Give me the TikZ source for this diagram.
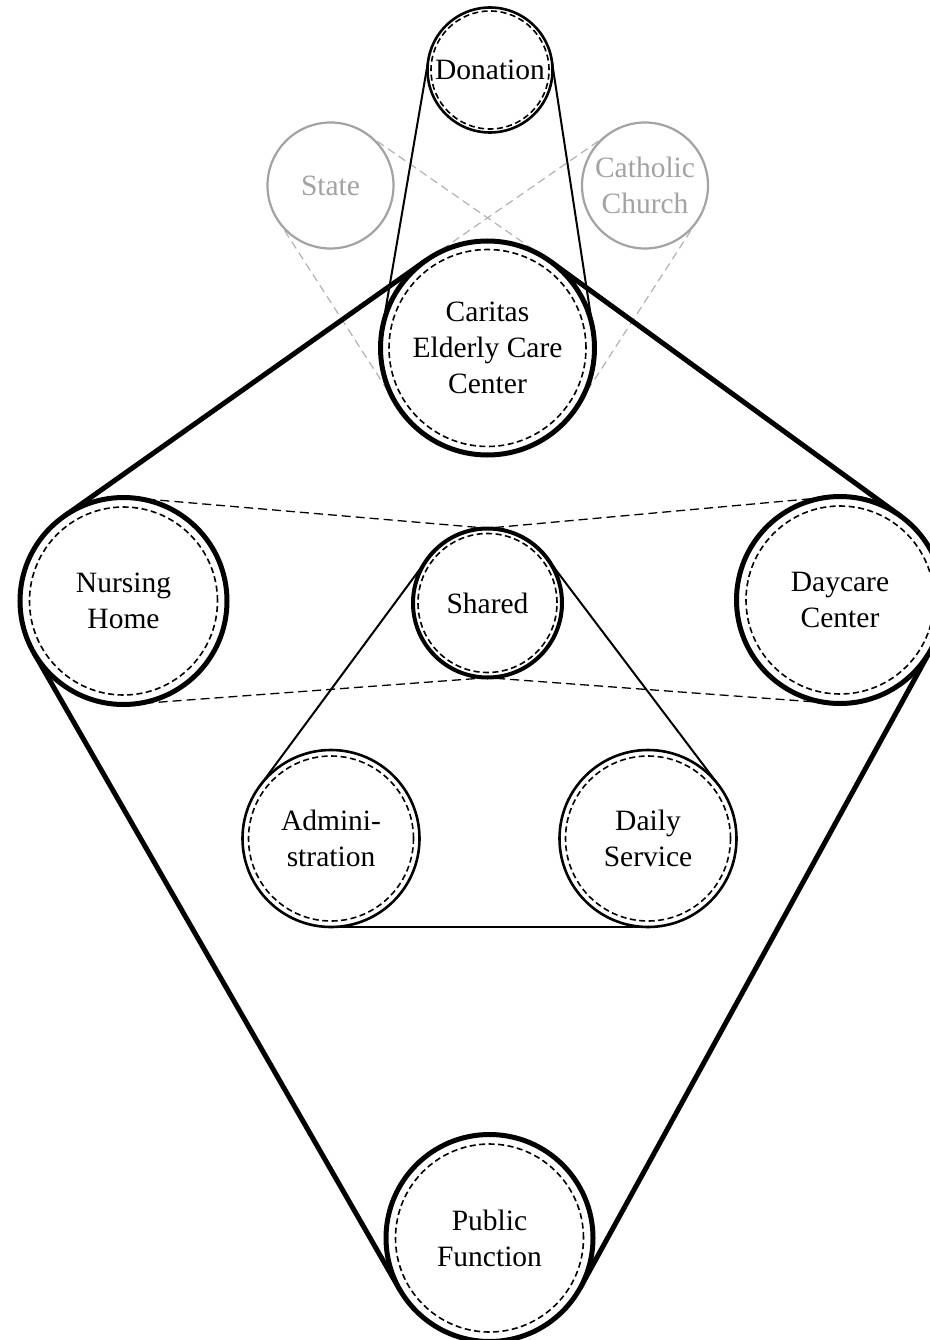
\documentclass[tikz,border=0pt]{standalone}
\usepackage{fontspec}
\setmainfont{Liberation Serif}
\usetikzlibrary{backgrounds}
\definecolor{gcol}{gray}{0.64}
\definecolor{gdash}{gray}{0.70}
\begin{document}
\begin{tikzpicture}[x=1pt,y=-1pt,
  lbl/.style={font=\fontsize{29.5}{36}\selectfont, align=center},
  inset/.style={path picture={\draw[line width=1.6pt, dash pattern=on 6pt off 3.5pt] (path picture bounding box.center) circle (#1);}},
  ring/.style={circle, draw, fill=white, inner sep=0pt, outer sep=0pt, lbl},
  bigring/.style={ring, line width=5pt},
  midring/.style={ring, line width=4pt},
  thinring/.style={ring, line width=2.6pt},
  grayring/.style={circle, draw=gcol, text=gcol, fill=white, line width=2.2pt, inner sep=0pt, outer sep=0pt, lbl},
  thickbelt/.style={line width=5pt},
  thinbelt/.style={line width=2pt},
  dashbelt/.style={line width=1.3pt, dash pattern=on 9pt off 5pt},
  graybelt/.style={draw=gdash, line width=1.2pt, dash pattern=on 8pt off 5pt}
]
\useasboundingbox (0,0) rectangle (929,1340);

\node[thinring, minimum size=125pt, inset=59pt] (don) at (490,70) {Donation};
\node[grayring, minimum size=126pt] (state) at (330.5,185.5) {State};
\node[grayring, minimum size=126pt] (cath) at (645,185.5) {Catholic\\Church};
\node[bigring, minimum size=214pt, inset=98.5pt] (car) at (487.5,348) {Caritas\\Elderly Care\\Center};
\node[bigring, minimum size=207pt, inset=94pt] (nh) at (123.5,601) {Nursing\\Home};
\node[bigring, minimum size=207pt, inset=94pt] (dc) at (840,600) {Daycare\\Center};
\node[bigring, minimum size=207pt, inset=94pt] (pf) at (489.5,1238) {Public\\Function};
\node[midring, minimum size=149pt, inset=69.5pt] (sh) at (487.5,603) {Shared};
\node[thinring, minimum size=177pt, inset=82.5pt] (adm) at (331,838.5) {Admini-\\stration};
\node[thinring, minimum size=177pt, inset=82.5pt] (dly) at (648,838.5) {Daily\\Service};

\begin{scope}[on background layer]
  % gray dashed links
  \draw[graybelt] (state.55) -- (car.55);
  \draw[graybelt] (state.213) -- (car.213);
  \draw[graybelt] (cath.125) -- (car.125);
  \draw[graybelt] (cath.327) -- (car.327);
  % donation
  \draw[thinbelt] (don.9) -- (car.9);
  \draw[thinbelt] (don.170) -- (car.170);
  % thick outer belt
  \draw[thickbelt] (car.125) -- (nh.125);
  \draw[thickbelt] (nh.210) -- (pf.210);
  \draw[thickbelt] (pf.331) -- (dc.331);
  \draw[thickbelt] (dc.54) -- (car.54);
  % dashed links through shared
  \draw[dashbelt] (nh.85) -- (sh.85);
  \draw[dashbelt] (nh.274) -- (sh.274);
  \draw[dashbelt] (sh.95) -- (dc.95);
  \draw[dashbelt] (sh.266) -- (dc.266);
  % inner triangle belt
  \draw[thinbelt] (sh.144) -- (adm.144);
  \draw[thinbelt] (adm.270) -- (dly.270);
  \draw[thinbelt] (dly.37) -- (sh.37);
\end{scope}
\end{tikzpicture}
\end{document}
